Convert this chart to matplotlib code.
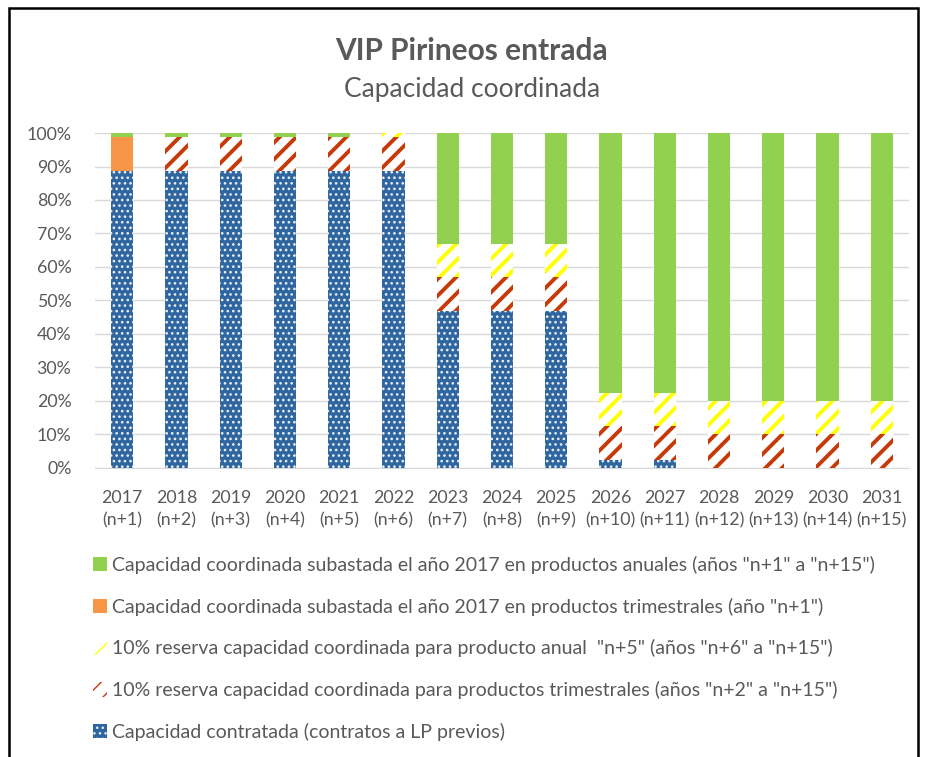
import numpy as np
import matplotlib
matplotlib.use('Agg')
from matplotlib import pyplot as plt
from matplotlib.patches import Rectangle

plt.rcParams['font.family'] = ['Lato', 'DejaVu Sans']

years = ['2017', '2018', '2019', '2020', '2021', '2022', '2023', '2024',
         '2025', '2026', '2027', '2028', '2029', '2030', '2031']
steps = ['(n+%d)' % i for i in range(1, 16)]

# values in %, stacked from bottom to top
contratada = [88.7, 88.7, 88.7, 88.7, 88.7, 88.7, 47, 47, 47, 2.4, 2.4, 0, 0, 0, 0]
res_trim = [0, 10, 10, 10, 10, 10, 10, 10, 10, 10, 10, 10, 10, 10, 10]
res_anual = [0, 0, 0, 0, 0, 1.3, 10, 10, 10, 10, 10, 10, 10, 10, 10]
sub_trim = [10, 0, 0, 0, 0, 0, 0, 0, 0, 0, 0, 0, 0, 0, 0]
sub_anual = [1.3, 1.3, 1.3, 1.3, 1.3, 0, 33, 33, 33, 77.6, 77.6, 80, 80, 80, 80]

labels = [
    'Capacidad contratada (contratos a LP previos)',
    '10% reserva capacidad coordinada para productos trimestrales (años "n+2" a "n+15")',
    '10% reserva capacidad coordinada para producto anual  "n+5" (años "n+6" a "n+15")',
    'Capacidad coordinada subastada el año 2017 en productos trimestrales (año "n+1")',
    'Capacidad coordinada subastada el año 2017 en productos anuales (años "n+1" a "n+15")',
]

txt = '#595959'
fig = plt.figure(figsize=(9.25, 7.57), dpi=100)
ax = fig.add_axes([0.1027, 0.3818, 0.880, 0.4425])

x = np.arange(len(years))
w = 0.41
bottom = np.zeros(len(years))
styles = [
    dict(color='#2F66A0', edgecolor='#E8EEF6', hatch='...', hlw=1.1),
    dict(color='white', edgecolor='#C63A0A', hatch='//', hlw=2.8),
    dict(color='white', edgecolor='#FFFF00', hatch='//', hlw=2.8),
    dict(color='#F79646', edgecolor='#F79646', hatch=None, hlw=1),
    dict(color='#92D050', edgecolor='#92D050', hatch=None, hlw=1),
]
handles = []
for vals, st in zip([contratada, res_trim, res_anual, sub_trim, sub_anual], styles):
    vals = np.array(vals)
    plt.rcParams['hatch.linewidth'] = st['hlw']
    b = ax.bar(x, vals, w, bottom=bottom, facecolor=st['color'],
               edgecolor=st['edgecolor'], hatch=st['hatch'], linewidth=0, zorder=3)
    for p in b:
        if hasattr(p, 'set_hatch_linewidth'):
            p.set_hatch_linewidth(st['hlw'])
    handles.append(b)
    bottom += vals

ax.set_xlim(-0.5, len(years) - 0.5)
ax.set_ylim(0, 100)
ax.set_yticks(np.arange(0, 101, 10))
ax.set_yticklabels(['%d%%' % v for v in range(0, 101, 10)])
ax.set_xticks(x)
ax.set_xticklabels([y + '\n' + s for y, s in zip(years, steps)], linespacing=1.45)
ax.tick_params(length=0, labelsize=12.8, colors=txt)
ax.tick_params(axis='x', pad=16)
ax.tick_params(axis='y', pad=17)
ax.grid(axis='y', color='#D9D9D9', linewidth=1, zorder=0)
for s in ['top', 'right', 'left']:
    ax.spines[s].set_visible(False)
ax.spines['bottom'].set_color('#D9D9D9')

fig.text(0.510, 0.933, 'VIP Pirineos entrada', ha='center', va='center',
         fontsize=21.5, fontweight='bold', color=txt)
fig.text(0.510, 0.882, 'Capacidad coordinada', ha='center', va='center',
         fontsize=19, color=txt)

fig.legend(handles[::-1], labels[::-1], loc='upper left',
           bbox_to_anchor=(0.092, 0.276), frameon=False, fontsize=14,
           labelcolor=txt, handlelength=0.75, handleheight=0.75,
           handletextpad=0.25, labelspacing=1.22, borderaxespad=0)

fig.add_artist(Rectangle((0.0095, -0.1), 0.983, 1.0895, transform=fig.transFigure,
                         fill=False, edgecolor='black', linewidth=1.8))

fig.savefig('out.png', dpi=100)
